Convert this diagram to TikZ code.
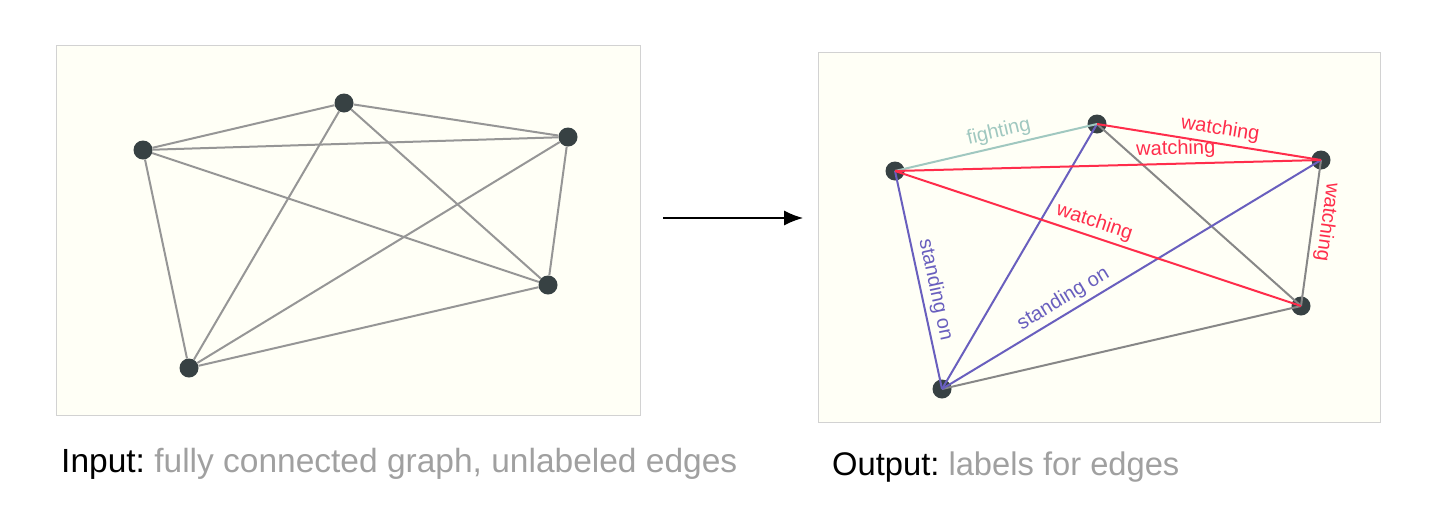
\documentclass[tikz,border=0pt]{standalone}
\usepackage{fontspec}
\setmainfont{Liberation Sans}
\usetikzlibrary{arrows.meta}
\frenchspacing

\definecolor{fondo}{RGB}{255,255,246}
\definecolor{borde}{RGB}{210,210,210}
\definecolor{nodo}{RGB}{55,65,67}
\definecolor{gris}{RGB}{150,150,150}
\definecolor{grisoscuro}{RGB}{135,135,135}
\definecolor{rojo}{RGB}{255,45,75}
\definecolor{morado}{RGB}{105,95,190}
\definecolor{verde}{RGB}{160,200,192}
\definecolor{texto}{RGB}{160,160,160}

\begin{document}
\begin{tikzpicture}[x=1pt,y=-1pt,>={Latex[length=19pt,width=15pt]},
    marco/.style={draw=borde, fill=fondo, line width=1pt},
    vertice/.style={circle, fill=nodo, inner sep=0pt, minimum size=19pt},
    arista/.style={line width=2pt, draw=gris},
    etiqueta/.style={font=\fontsize{20}{23}\selectfont, sloped, above, inner sep=4pt},
    leyenda/.style={anchor=base west, inner sep=0pt}]
  \useasboundingbox (0,0) rectangle (1450,504);

  % Marcos
  \draw[marco] (56,45) rectangle (640,415);
  \draw[marco] (818,52) rectangle (1380,422);

  % Grafo de entrada
  \foreach \n/\x/\y in {a/143/150,b/344/103,c/568/137,d/548/285,e/189/368}
    \node[vertice] (i\n) at (\x,\y) {};
  \foreach \u/\v in {a/b,a/c,a/d,a/e,b/c,b/d,b/e,c/d,c/e,d/e}
    \draw[arista] (i\u) -- (i\v);

  % Grafo de salida
  \foreach \n/\x/\y in {a/895/171,b/1097/124,c/1321/160,d/1301/306,e/942/389}
    \node[vertice] (o\n) at (\x,\y) {};
  \draw[arista, draw=grisoscuro] (ob.center) -- (od.center);
  \draw[arista, draw=grisoscuro] (oe.center) -- (od.center);
  \draw[arista, draw=grisoscuro] (oc.center) -- node[etiqueta, allow upside down, pos=.41, text=rojo]{watching} (od.center);
  \draw[arista, draw=morado] (ob.center) -- (oe.center);
  \draw[arista, draw=morado] (oe.center) -- node[etiqueta, pos=.34, text=morado]{standing on} (oc.center);
  \draw[arista, draw=morado] (oa.center) -- node[etiqueta, pos=.56, text=morado]{standing on} (oe.center);
  \draw[arista, draw=verde] (oa.center) -- node[etiqueta, pos=.53, text=verde]{fighting} (ob.center);
  \draw[arista, draw=rojo] (ob.center) -- node[etiqueta, pos=.54, text=rojo]{watching} (oc.center);
  \draw[arista, draw=rojo] (oa.center) -- node[etiqueta, pos=.66, text=rojo]{watching} (oc.center);
  \draw[arista, draw=rojo] (oa.center) -- node[etiqueta, pos=.48, text=rojo]{watching} (od.center);

  % Flecha
  \coordinate (ini) at (663,218);
  \coordinate (fin) at (803,218);
  \draw[->, line width=1.3pt] (ini) -- (fin);

  % Leyendas
  \node[leyenda, font=\fontsize{33.5}{38}\selectfont] (entrada) at (61,472) {Input: \textcolor{texto}{fully connected graph, unlabeled edges}};
  \node[leyenda, font=\fontsize{32.7}{38}\selectfont] (salida) at (832,475) {Output: \textcolor{texto}{labels for edges}};
\end{tikzpicture}
\end{document}
